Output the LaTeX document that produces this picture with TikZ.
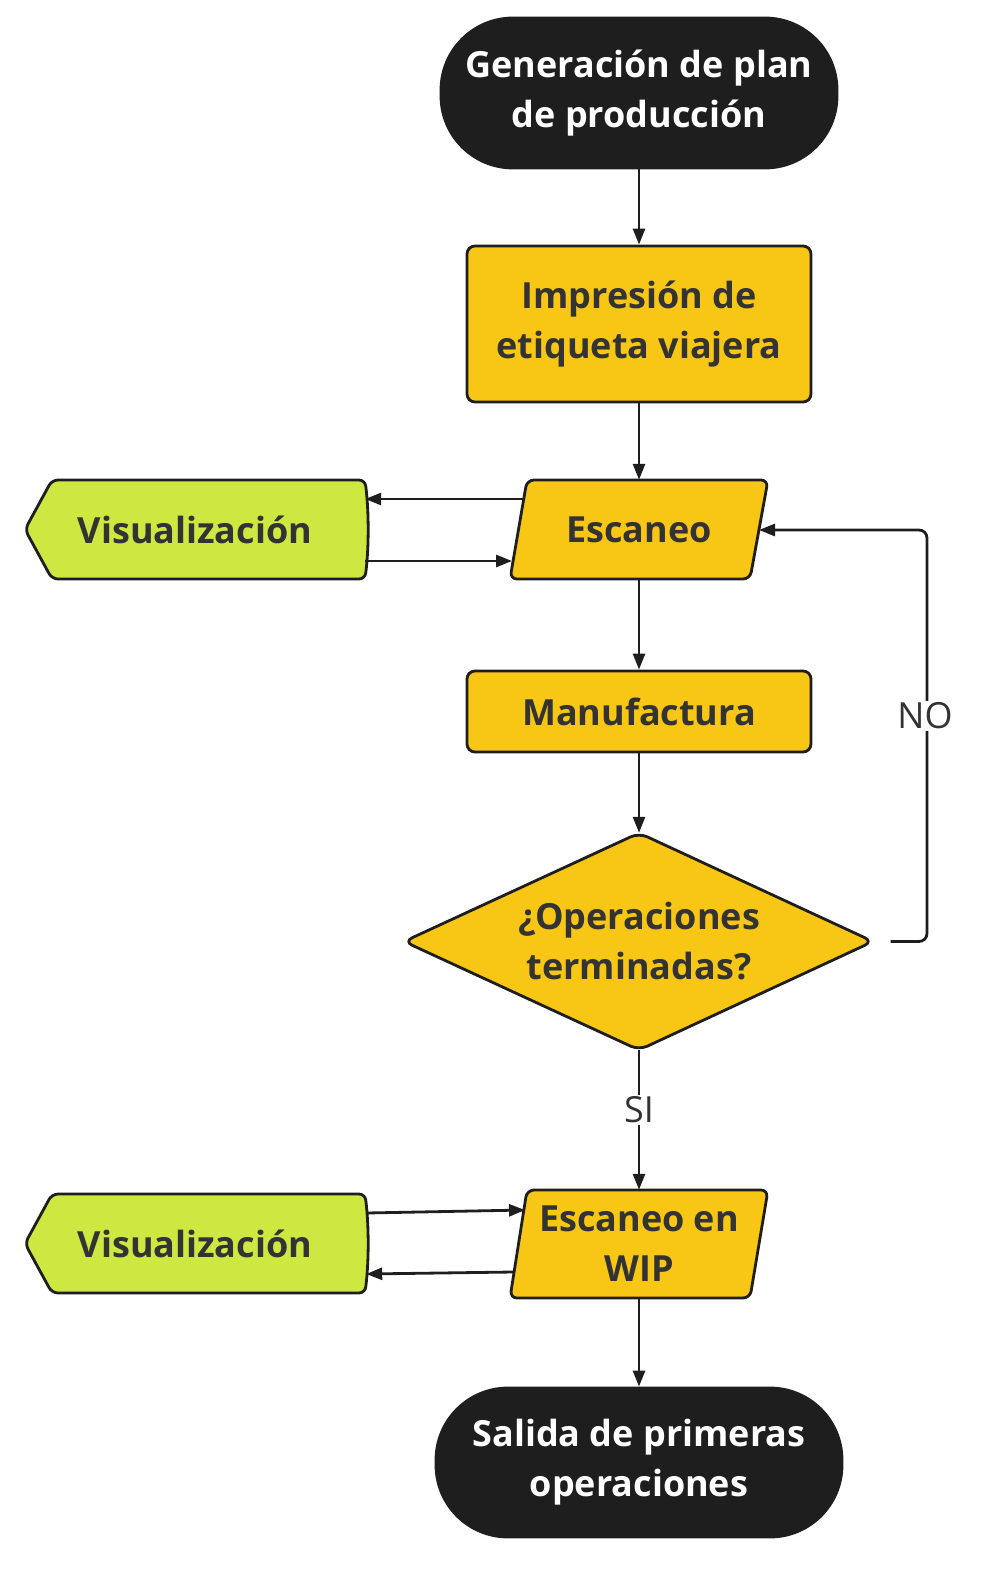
\documentclass[tikz,border=0pt]{standalone}
\usepackage{fontspec}
\setmainfont{Open Sans}
\usetikzlibrary{arrows.meta,calc}
\definecolor{ylw}{HTML}{F8C614}
\definecolor{grn}{HTML}{CEE741}
\definecolor{blk}{HTML}{1E1E1E}
\definecolor{txt}{HTML}{333333}
\begin{document}
\begin{tikzpicture}[x=1pt,y=-1pt,
  lbl/.style={font=\bfseries\fontsize{36}{50}\selectfont, align=center, text=txt},
  term/.style={lbl, rectangle, rounded corners=72pt, fill=blk, draw=blk, line width=2.8pt, text=white, inner sep=0pt},
  proc/.style={lbl, rectangle, rounded corners=8pt, fill=ylw, draw=blk, line width=2.8pt, minimum width=344pt, inner sep=0pt},
  box/.style={lbl, rectangle, inner sep=0pt},
  shp/.style={draw=blk, line width=2.8pt, rounded corners=7pt},
  arr/.style={draw=blk, line width=2.8pt, -{Triangle[length=16pt,width=12pt]}},
  ln/.style={draw=blk, line width=2.8pt},
  edge lbl/.style={font=\fontsize{36}{44}\selectfont, text=txt, fill=white, inner sep=2pt}
]
\useasboundingbox (0,0) rectangle (985,1586);

% top terminal
\node[term, minimum width=396pt, minimum height=150pt] (start) at (639,93) {Generación de plan\\de producción};
% impresion
\node[proc, minimum height=156pt] (imp) at (639,324) {Impresión de\\etiqueta viajera};

% Escaneo parallelogram
\path[shp, fill=ylw] (527,480) -- (768,480) -- (750,579) -- (510,579) -- cycle;
\node[box, minimum width=258pt, minimum height=99pt] (esc) at (639,529.5) {Escaneo};

% Visualizacion 1
\path[shp, fill=grn, rounded corners=6pt] (25,529.5) -- (52,480) -- (365,480) .. controls (369,512) and (369,547) .. (365,579) -- (52,579) -- cycle;
\node[box, minimum width=340pt, minimum height=99pt] (vis1) at (195,529.5) {Visualización};

% Manufactura
\node[proc, minimum height=81pt] (man) at (639,711.5) {Manufactura};

% Decision
\path[shp, fill=ylw, rounded corners=9pt] (404,941.5) -- (639,833) -- (873,941.5) -- (639,1050) -- cycle;
\node[box, minimum width=469pt, minimum height=217pt] (dec) at (639,941.5) {¿Operaciones\\terminadas?};

% Escaneo en WIP
\path[shp, fill=ylw] (527,1190) -- (768,1190) -- (750,1298) -- (510,1298) -- cycle;
\node[box, minimum width=258pt, minimum height=108pt] (wip) at (639,1244) {Escaneo en\\WIP};

% Visualizacion 2
\path[shp, fill=grn, rounded corners=6pt] (25,1243.5) -- (52,1194) -- (365,1194) .. controls (369,1226) and (369,1261) .. (365,1293) -- (52,1293) -- cycle;
\node[box, minimum width=340pt, minimum height=99pt] (vis2) at (195,1243.5) {Visualización};

% bottom terminal
\node[term, minimum width=406pt, minimum height=149pt] (fin) at (639,1462.5) {Salida de primeras\\operaciones};

% connector end points on slanted edges
\coordinate (escL1) at (524,499);
\coordinate (escL2) at (512,561);
\coordinate (escR) at (759,530);
\coordinate (wipL1) at (525,1210);
\coordinate (wipL2) at (513,1272);
\coordinate (loopA) at ($(dec.east)+(17,0)$);
\coordinate (loopB) at (927,941.5);
\coordinate (loopC) at (927,530);

% connectors
\draw[arr] (start.south) -- (imp.north);
\draw[arr] (imp.south) -- (esc.north);
\draw[arr] (escL1) -- (vis1.east |- escL1);
\draw[arr] (vis1.east |- escL2) -- (escL2);
\draw[arr] (esc.south) -- (man.north);
\draw[arr] (man.south) -- (dec.north);
\draw[ln, rounded corners=8pt] (loopA) -- (loopB) -- (loopC) -- ($(escR)+(14,0)$);
\draw[arr] ($(escR)+(20,0)$) -- (escR);
\node[edge lbl] (no) at (925,716) {NO};
\draw[arr] (dec.south) -- (wip.north);
\node[edge lbl] (si) at (639,1110) {SI};
\draw[arr] ($(vis2.east)+(1,-30.5)$) -- (wipL1);
\draw[arr] (wipL2) -- ($(vis2.east)+(1,30.5)$);
\draw[arr] (wip.south) -- (fin.north);
\end{tikzpicture}
\end{document}
